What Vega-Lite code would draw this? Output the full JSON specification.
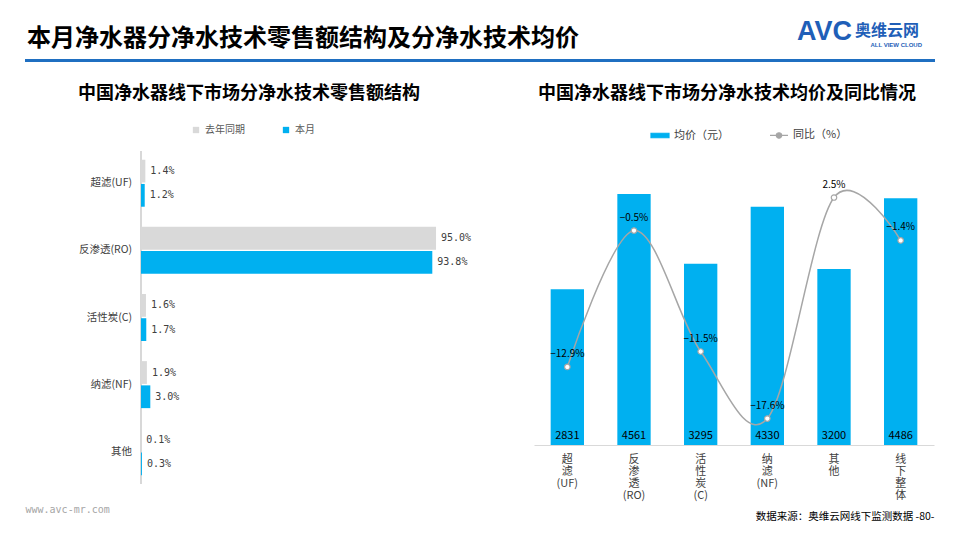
{
  "$schema": "https://vega.github.io/schema/vega-lite/v6.json",
  "background": "white",
  "padding": {"left": 25, "top": 18, "right": 10, "bottom": 5},
  "config": {
    "font": "Noto Sans CJK SC",
    "view": {"stroke": null},
    "axis": {"grid": false}
  },
  "spacing": 22,
  "resolve": {"scale": {"color": "independent", "x": "independent", "y": "independent"}, "legend": {"color": "independent"}},
  "vconcat": [
    {
      "width": 910,
      "height": 3,
      "view": {"fill": "#1f6fc1", "stroke": null},
      "title": {"text": "本月净水器分净水技术零售额结构及分净水技术均价", "anchor": "start", "fontSize": 24, "fontWeight": "bold", "color": "#000000", "offset": -33, "dx": 2},
      "data": {"values": [{"brand": "AVC", "name": "奥维云网", "en": "ALL VIEW CLOUD"}]},
      "layer": [
        {"mark": {"type": "text", "align": "right", "baseline": "middle", "dx": -83, "dy": -28.5, "fontSize": 27, "fontWeight": "bold", "color": "#1f5fb8", "font": "Liberation Sans"}, "encoding": {"x": {"value": "width"}, "text": {"field": "brand"}}},
        {"mark": {"type": "text", "align": "right", "baseline": "middle", "dx": -16, "dy": -29.5, "fontSize": 16, "fontWeight": "bold", "color": "#1f5fb8"}, "encoding": {"x": {"value": "width"}, "text": {"field": "name"}}},
        {"mark": {"type": "text", "align": "right", "baseline": "middle", "dx": -13, "dy": -15.5, "fontSize": 6, "fontWeight": "bold", "color": "#1f5fb8", "font": "Liberation Sans"}, "encoding": {"x": {"value": "width"}, "text": {"field": "en"}}}
      ]
    },
    {
      "spacing": 62,
      "resolve": {"scale": {"color": "independent", "x": "independent", "y": "independent"}, "legend": {"color": "independent"}},
      "hconcat": [
        {
          "width": 416,
          "height": 333,
          "title": {"text": "中国净水器线下市场分净水技术零售额结构", "fontSize": 18, "fontWeight": "bold", "color": "#000000", "offset": 22.5, "anchor": "middle", "dx": 16},
          "data": {"values": [
            {"tech": "超滤(UF)", "period": "去年同期", "share": 0.014},
            {"tech": "超滤(UF)", "period": "本月", "share": 0.012},
            {"tech": "反渗透(RO)", "period": "去年同期", "share": 0.950},
            {"tech": "反渗透(RO)", "period": "本月", "share": 0.938},
            {"tech": "活性炭(C)", "period": "去年同期", "share": 0.016},
            {"tech": "活性炭(C)", "period": "本月", "share": 0.017},
            {"tech": "纳滤(NF)", "period": "去年同期", "share": 0.019},
            {"tech": "纳滤(NF)", "period": "本月", "share": 0.030},
            {"tech": "其他", "period": "去年同期", "share": 0.001},
            {"tech": "其他", "period": "本月", "share": 0.003}
          ]},
          "encoding": {
            "y": {"field": "tech", "type": "nominal", "sort": ["超滤(UF)", "反渗透(RO)", "活性炭(C)", "纳滤(NF)", "其他"], "scale": {"paddingInner": 0.3, "paddingOuter": 0.13}, "axis": null},
            "x": {"field": "share", "type": "quantitative", "scale": {"domain": [-0.3735, 0.966], "nice": false, "zero": false}, "axis": {"title": "www.avc-mr.com", "labels": false, "ticks": false, "domain": false, "titleAnchor": "start", "titlePadding": 20, "titleFontSize": 10, "titleFontWeight": "normal", "titleColor": "#a6a6a6", "titleFont": "DejaVu Sans Mono"}}
          },
          "layer": [
            {"mark": {"type": "rule", "color": "#d9d9d9", "strokeWidth": 1}, "encoding": {"x": {"datum": 0, "type": "quantitative"}, "y": null}},
            {"mark": {"type": "bar"}, "encoding": {
              "yOffset": {"field": "period", "type": "nominal", "sort": ["去年同期", "本月"], "scale": {"paddingInner": 0.06}},
              "color": {"field": "period", "type": "nominal", "scale": {"domain": ["去年同期", "本月"], "range": ["#d9d9d9", "#00b0f0"]}, "legend": {"title": null, "orient": "none", "legendX": 166, "legendY": -26, "direction": "horizontal", "symbolType": "square", "symbolSize": 40, "labelFontSize": 10, "labelColor": "#595959", "columnPadding": 36, "symbolStrokeWidth": 0}}}},
            {"mark": {"type": "text", "align": "left", "baseline": "middle", "dx": 5, "fontSize": 10, "color": "#404040", "font": "DejaVu Sans Mono"}, "encoding": {
              "yOffset": {"field": "period", "type": "nominal", "sort": ["去年同期", "本月"], "scale": {"paddingInner": 0.06}},
              "text": {"field": "share", "type": "quantitative", "format": ".1%"}}},
            {"transform": [{"filter": "datum.period === '本月'"}], "mark": {"type": "text", "align": "right", "baseline": "middle", "dx": -9, "fontSize": 10.5, "color": "#404040"}, "encoding": {
              "x": {"datum": 0, "type": "quantitative"},
              "text": {"field": "tech", "type": "nominal"}}}
          ]
        },
        {
          "width": 400,
          "height": 294,
          "title": {"text": "中国净水器线下市场分净水技术均价及同比情况", "fontSize": 18, "fontWeight": "bold", "color": "#000000", "offset": 22.5, "anchor": "middle", "dx": -7},
          "data": {"values": [
            {"tech": "超滤(UF)", "price": 2831, "yoy": -0.129},
            {"tech": "反渗透(RO)", "price": 4561, "yoy": -0.005},
            {"tech": "活性炭(C)", "price": 3295, "yoy": -0.115},
            {"tech": "纳滤(NF)", "price": 4330, "yoy": -0.176},
            {"tech": "其他", "price": 3200, "yoy": 0.025},
            {"tech": "线下整体", "price": 4486, "yoy": -0.014}
          ]},
          "encoding": {
            "x": {"field": "tech", "type": "nominal", "sort": null, "scale": {"paddingInner": 0.5, "paddingOuter": 0.25}, "axis": {"title": "数据来源：奥维云网线下监测数据    -80-", "titleAnchor": "end", "titleAlign": "right", "titleBaseline": "middle", "titleY": 71, "titleFontSize": 10.5, "titleFontWeight": "normal", "titleColor": "#000000", "ticks": false, "domainColor": "#d9d9d9", "labelAngle": 0, "labelBaseline": "top", "labelFontSize": 11, "labelLineHeight": 12, "labelColor": "#404040", "labelPadding": 8, "labelExpr": "datum.value == '超滤(UF)' ? ['超','滤','(UF)'] : datum.value == '反渗透(RO)' ? ['反','渗','透','(RO)'] : datum.value == '活性炭(C)' ? ['活','性','炭','(C)'] : datum.value == '纳滤(NF)' ? ['纳','滤','(NF)'] : datum.value == '其他' ? ['其','他'] : ['线','下','整','体']"}}
          },
          "layer": [
            {"mark": {"type": "bar"}, "encoding": {
              "y": {"field": "price", "type": "quantitative", "scale": {"domain": [0, 5345], "nice": false}, "axis": null},
              "color": {"datum": "均价（元）", "type": "nominal", "scale": {"domain": ["均价（元）", "同比（%）"], "range": ["#00b0f0", "#a6a6a6"]}, "legend": {"title": null, "orient": "none", "legendX": 116, "legendY": -26, "direction": "horizontal", "labelFontSize": 11, "labelColor": "#404040", "columnPadding": 38, "symbolSize": 324, "encode": {"symbols": {"update": {
                "shape": {"signal": "datum.value === '同比（%）' ? 'M-1,0H-0.3M0.3,0H1M0.3,0A0.3,0.3 0 1 1 -0.3,0A0.3,0.3 0 1 1 0.3,0' : 'M-1,-0.25H1V0.25H-1Z'"},
                "fill": {"signal": "datum.value === '同比（%）' ? '#ffffff' : '#00b0f0'"},
                "stroke": {"signal": "datum.value === '同比（%）' ? '#a6a6a6' : '#00b0f0'"},
                "strokeWidth": {"value": 1.2},
                "opacity": {"value": 1}
              }}}}}
            }},
            {"mark": {"type": "text", "baseline": "bottom", "dy": -4, "fontSize": 11, "color": "#000000"}, "encoding": {
              "y": {"datum": 0, "type": "quantitative", "scale": {"domain": [0, 5345], "nice": false}, "axis": null},
              "text": {"field": "price", "type": "quantitative"}
            }},
            {"mark": {"type": "line", "interpolate": "cardinal", "tension": 0, "strokeWidth": 1.5}, "encoding": {
              "y": {"field": "yoy", "type": "quantitative", "scale": {"domain": [-0.2, 0.0673], "nice": false, "zero": false}, "axis": null},
              "color": {"datum": "同比（%）", "type": "nominal"}
            }},
            {"mark": {"type": "point", "filled": true, "fill": "#ffffff", "stroke": "#a6a6a6", "strokeWidth": 1.2, "size": 30, "opacity": 1}, "encoding": {
              "y": {"field": "yoy", "type": "quantitative", "scale": {"domain": [-0.2, 0.0673], "nice": false, "zero": false}, "axis": null}
            }},
            {"mark": {"type": "text", "baseline": "middle", "dy": -13, "fontSize": 10, "color": "#000000"}, "encoding": {
              "y": {"field": "yoy", "type": "quantitative", "scale": {"domain": [-0.2, 0.0673], "nice": false, "zero": false}, "axis": null},
              "text": {"field": "yoy", "type": "quantitative", "format": ".1%"}
            }}
          ],
          "resolve": {"scale": {"y": "independent"}}
        }
      ]
    }
  ]
}
